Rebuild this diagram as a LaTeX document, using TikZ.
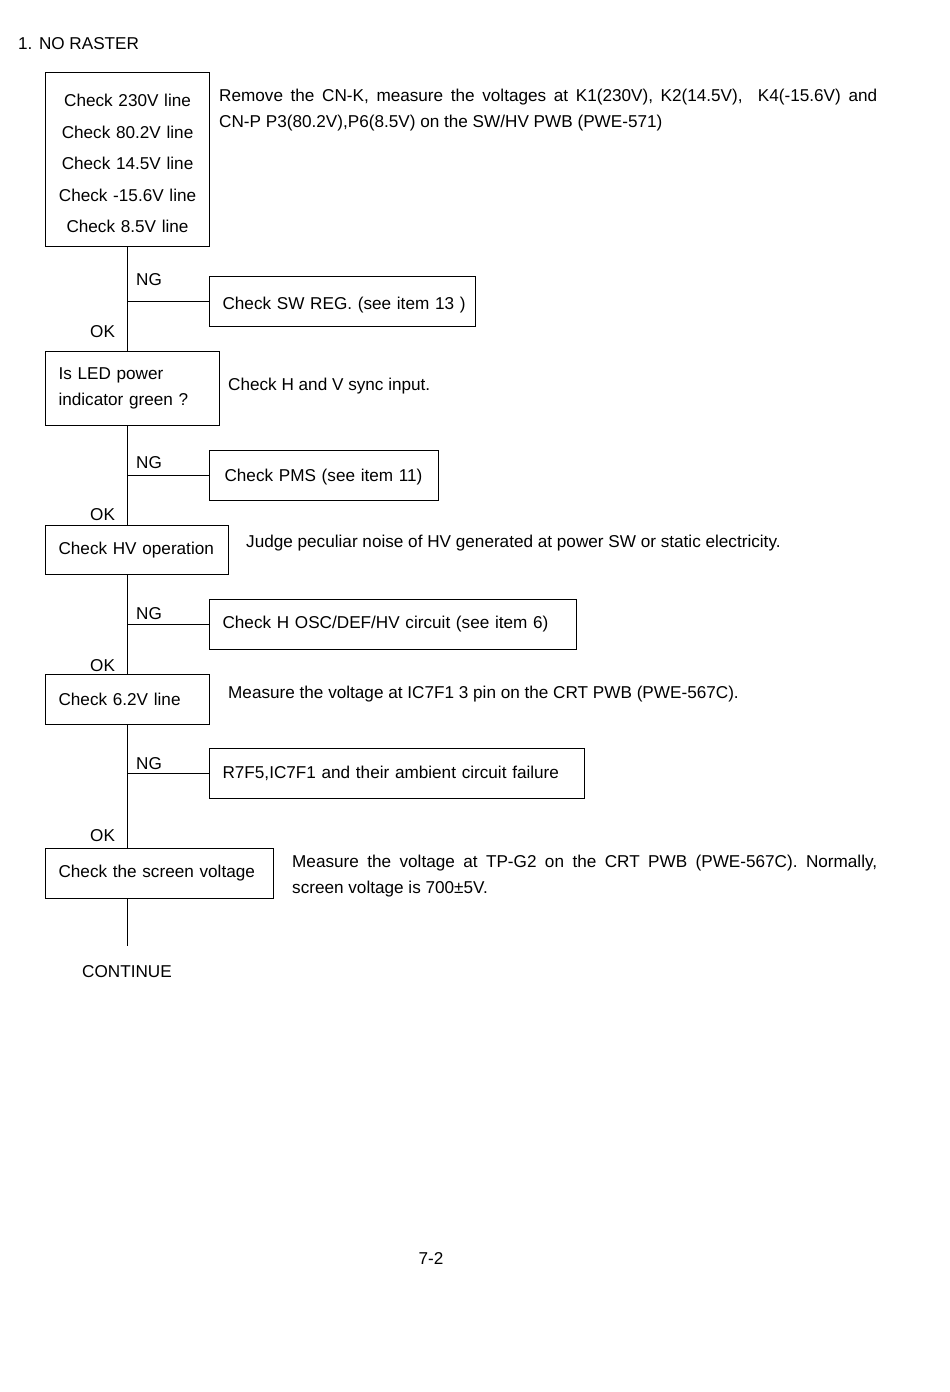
\documentclass[tikz,border=0pt]{standalone}
\usepackage{fontspec}
\setmainfont{Liberation Sans}
\frenchspacing
\begin{document}
\begin{tikzpicture}[x=1pt,y=-1pt,
  every node/.style={font=\fontsize{17.15}{26}\selectfont, inner sep=0pt},
  box/.style={draw, line width=1.1pt, anchor=north west, align=left, inner xsep=13pt, inner ysep=0pt},
  lbl/.style={anchor=base west},
  side/.style={anchor=north west, align=justify},
  conn/.style={line width=1.1pt}]
\useasboundingbox (0,0) rectangle (950,1392);

\node[lbl] (title) at (18,49) {1.\hspace{6.5pt}NO RASTER};

\node[box, align=center, inner xsep=7pt, text width=150pt, minimum height=174pt,
      font=\fontsize{17.15}{31.5}\selectfont] (b1) at (45,72)
  {\rule{0pt}{20.5pt}Check 230V line\\Check 80.2V line\\Check 14.5V line\\Check -15.6V line\\Check 8.5V line};
\node[side, text width=658pt] (t1) at (219,89)
  {Remove the CN-K, measure the voltages at K1(230V), K2(14.5V),~ K4(-15.6V) and\linebreak CN-P P3(80.2V),P6(8.5V) on the SW/HV PWB (PWE-571)};

\node[box, text width=240pt, minimum height=50pt] (ng1) at (209,276) {\rule{0pt}{20pt}\mbox{Check SW REG. (see item 13 )}};

\node[box, text width=148pt, minimum height=74pt] (b2) at (45,351) {Is LED power\\indicator green ?};
\node[lbl] (t2) at (228,390) {Check H and V sync input.};

\node[box, inner xsep=15pt, text width=199pt, minimum height=50pt] (ng2) at (209,450) {\rule{0pt}{16pt}\mbox{Check PMS (see item 11)}};

\node[box, text width=157pt, minimum height=49pt] (b3) at (45,525) {\mbox{Check HV operation}};
\node[lbl] (t3) at (246,547) {Judge peculiar noise of HV generated at power SW or static electricity.};

\node[box, text width=341pt, minimum height=50pt] (ng3) at (209,599) {\mbox{Check H OSC/DEF/HV circuit (see item 6)}};

\node[box, text width=138pt, minimum height=50pt] (b4) at (45,674) {\mbox{Check 6.2V line}};
\node[lbl] (t4) at (228,698) {Measure the voltage at IC7F1 3 pin on the CRT PWB (PWE-567C).};

\node[box, text width=349pt, minimum height=50pt] (ng4) at (209,748) {\mbox{R7F5,IC7F1 and their ambient circuit failure}};

\node[box, text width=202pt, minimum height=50pt] (b5) at (45,848) {\mbox{Check the screen voltage}};
\node[side, text width=585pt] (t5) at (292,855)
  {Measure the voltage at TP-G2 on the CRT PWB (PWE-567C). Normally,\linebreak screen voltage is 700±5V.};

% spine
\draw[conn] (b1.south) -- (b1.south |- b2.north);
\draw[conn] (b1.south |- b2.south) -- (b1.south |- b3.north);
\draw[conn] (b1.south |- b3.south) -- (b1.south |- b4.north);
\draw[conn] (b1.south |- b4.south) -- (b1.south |- b5.north);
\coordinate (cend) at (b1.south |- 0,946);
\draw[conn] (b1.south |- b5.south) -- (cend);

% NG branches
\draw[conn] (b1.south |- ng1.west) -- (ng1.west);
\draw[conn] (b1.south |- ng2.west) -- (ng2.west);
\draw[conn] (b1.south |- ng3.west) -- (ng3.west);
\draw[conn] (b1.south |- ng4.west) -- (ng4.west);

\node[lbl] (ngl1) at (136,285) {NG};
\node[lbl] (okl1) at (90,337) {OK};
\node[lbl] (ngl2) at (136,468) {NG};
\node[lbl] (okl2) at (90,520) {OK};
\node[lbl] (ngl3) at (136,619) {NG};
\node[lbl] (okl3) at (90,671) {OK};
\node[lbl] (ngl4) at (136,769) {NG};
\node[lbl] (okl4) at (90,841) {OK};

\node (cont) at (127,972) {CONTINUE};
\node (page) at (431,1258) {7-2};
\end{tikzpicture}
\end{document}
